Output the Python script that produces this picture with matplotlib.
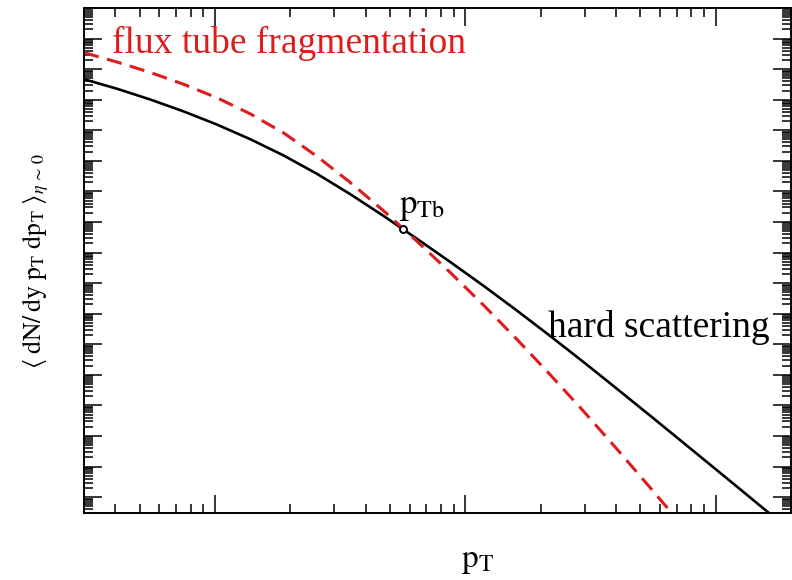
import numpy as np
import matplotlib
matplotlib.use('Agg')
from matplotlib import pyplot as plt
from matplotlib.ticker import LogLocator, NullFormatter

plt.rcParams['font.family'] = ['Liberation Serif', 'DejaVu Serif']
plt.rcParams['mathtext.fontset'] = 'stix'

# transverse momentum grid (arbitrary units)
pt = [0.300, 0.407, 0.553, 0.752, 1.021, 1.387, 1.884, 2.559, 3.475, 4.732, 6.427,
      8.730, 11.86, 16.11, 21.88, 29.79, 40.46, 54.95, 74.64, 101.4, 137.7, 187.1]

# log10 of the yield, hard scattering (solid black)
log_hard = [1.670, 1.357, 1.004, 0.613, 0.184, -0.295, -0.827, -1.426, -2.092,
            -2.810, -3.555, -4.314, -5.095, -5.903, -6.735, -7.593, -8.465,
            -9.346, -10.234, -11.126, -12.020, -12.918]

# log10 of the yield, flux tube fragmentation (red dashed)
log_flux = [2.540, 2.231, 1.890, 1.501, 1.060, 0.534, -0.090, -0.855, -1.711,
            -2.644, -3.638, -4.660, -5.731, -6.846, -8.005, -9.206, -10.441,
            -11.704, -12.992]

# matching point p_Tb
pt_b = [5.62]
log_b = [-3.23]

fig = plt.figure(figsize=(7.92, 5.8), dpi=100)
ax = fig.add_axes([84 / 792, 67 / 580, 707 / 792, 505 / 580])

ax.plot(pt, 10.0 ** np.array(log_hard), color='black', lw=1.9)
ax.plot(pt[:len(log_flux)], 10.0 ** np.array(log_flux), color='#dd1c1c', lw=2.2,
        linestyle=(0, (5, 2.8)))
ax.plot(pt_b, 10.0 ** np.array(log_b), 'o', ms=5, mfc='white', mec='black', mew=1.4)

ax.set_xscale('log')
ax.set_yscale('log')
ax.set_xlim(0.3, 200)
ax.set_ylim(10 ** -12.52, 1e4)

for axis in (ax.xaxis, ax.yaxis):
    axis.set_major_locator(LogLocator(base=10, numticks=100))
    axis.set_minor_locator(LogLocator(base=10, subs=np.arange(2, 10), numticks=100))
    axis.set_major_formatter(NullFormatter())
    axis.set_minor_formatter(NullFormatter())

ax.tick_params(which='both', direction='in', top=True, right=True, width=1.1)
ax.tick_params(which='major', length=13)
ax.tick_params(which='minor', length=6.5)
for s in ax.spines.values():
    s.set_linewidth(1.4)

ax.text(0.0396, 0.911, 'flux tube fragmentation', color='#dd1c1c', fontsize=27,
        transform=ax.transAxes, va='baseline', ha='left')
ax.text(0.656, 0.3485, 'hard scattering', color='black', fontsize=27,
        transform=ax.transAxes, va='baseline', ha='left')
ax.text(0.445, 0.595, r'$\mathrm{p}_{\mathrm{Tb}}$', fontsize=25,
        transform=ax.transAxes, va='baseline', ha='left')
ax.text(0.557, -0.107, r'$\mathrm{p}_{\mathrm{T}}$', fontsize=24,
        transform=ax.transAxes, va='baseline', ha='center')
ax.text(-0.068, 0.5,
        r'$\langle\;\mathrm{dN/\,dy\ p_T\ dp_T}\;\rangle_{\eta\,\sim\,0}$',
        fontsize=18.5, rotation=90, transform=ax.transAxes, va='center', ha='center')

fig.savefig('out.png', dpi=100)
